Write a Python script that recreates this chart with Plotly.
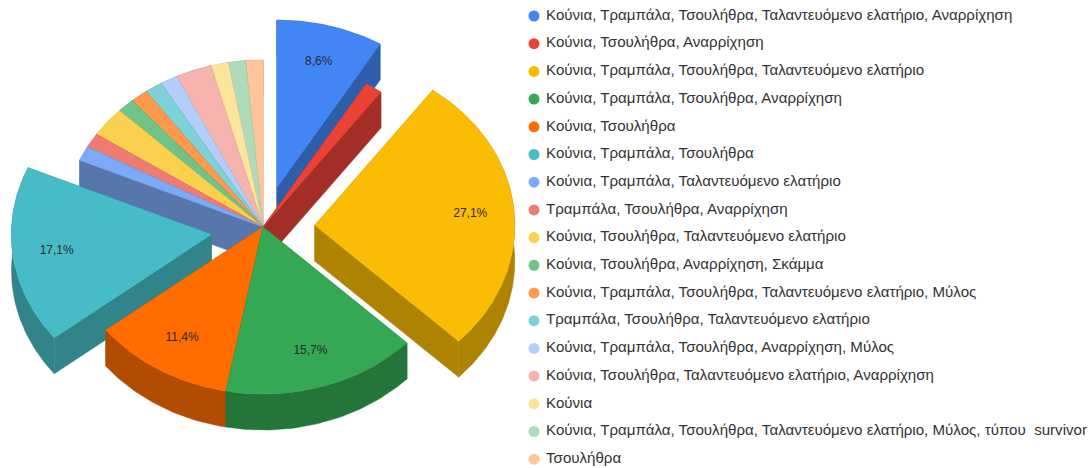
import math
import plotly.graph_objects as go

categories = [
    "Κούνια, Τραμπάλα, Τσουλήθρα, Ταλαντευόμενο ελατήριο, Αναρρίχηση",
    "Κούνια, Τσουλήθρα, Αναρρίχηση",
    "Κούνια, Τραμπάλα, Τσουλήθρα, Ταλαντευόμενο ελατήριο",
    "Κούνια, Τραμπάλα, Τσουλήθρα, Αναρρίχηση",
    "Κούνια, Τσουλήθρα",
    "Κούνια, Τραμπάλα, Τσουλήθρα",
    "Κούνια, Τραμπάλα, Ταλαντευόμενο ελατήριο",
    "Τραμπάλα, Τσουλήθρα, Αναρρίχηση",
    "Κούνια, Τσουλήθρα, Ταλαντευόμενο ελατήριο",
    "Κούνια, Τσουλήθρα, Αναρρίχηση, Σκάμμα",
    "Κούνια, Τραμπάλα, Τσουλήθρα, Ταλαντευόμενο ελατήριο, Μύλος",
    "Τραμπάλα, Τσουλήθρα, Ταλαντευόμενο ελατήριο",
    "Κούνια, Τραμπάλα, Τσουλήθρα, Αναρρίχηση, Μύλος",
    "Κούνια, Τσουλήθρα, Ταλαντευόμενο ελατήριο, Αναρρίχηση",
    "Κούνια",
    "Κούνια, Τραμπάλα, Τσουλήθρα, Ταλαντευόμενο ελατήριο, Μύλος, τύπου  survivor",
    "Τσουλήθρα",
]
values = [8.6, 1.4, 27.1, 15.7, 11.4, 17.1, 1.4, 1.4, 2.9, 1.4, 1.4, 1.4, 1.4, 2.9, 1.4, 1.4, 1.4]
pulled = [0.26, 0, 0.26, 0, 0, 0.26, 0, 0, 0, 0, 0, 0, 0, 0, 0, 0, 0]
colors = ["#4285f4", "#ea4335", "#fbbc04", "#34a853", "#ff6d01", "#46bdc6", "#7baaf7", "#f07b72",
          "#fcd04f", "#71c287", "#ff994d", "#7ed1d7", "#b3cefb", "#f7b4ae", "#fde49b", "#aedcba", "#ffc599"]

CX, CY, RX, RY, DEPTH = 263, 227, 200, 167, 36
PULL_DROP = 2
LEG_X, LEG_Y0, LEG_DY = 534, 16, 27.7


def darken(h, f=0.7):
    return "#%02x%02x%02x" % tuple(int(int(h[i:i + 2], 16) * f) for i in (1, 3, 5))


total = sum(values)
slices = []
acc = 0.0
for v, p, c in zip(values, pulled, colors):
    a0 = acc / total * 2 * math.pi
    acc += v
    a1 = acc / total * 2 * math.pi
    mid = (a0 + a1) / 2
    ax = CX + RX * p * math.sin(mid)
    ay = CY - RY * p * math.cos(mid) + (PULL_DROP if p else 0)
    n = max(4, int((a1 - a0) * 60))
    arc = [(ax + RX * math.sin(a0 + (a1 - a0) * i / n), ay - RY * math.cos(a0 + (a1 - a0) * i / n)) for i in range(n + 1)]
    slices.append(dict(v=v, c=c, mid=mid, ax=ax, ay=ay, arc=arc,
                       key=ay - RY * 0.5 * math.cos(mid)))

fig = go.Figure()


def poly(pts, color):
    fig.add_trace(go.Scatter(x=[q[0] for q in pts], y=[q[1] for q in pts], mode="lines", fill="toself",
                             fillcolor=color, line=dict(width=0.5, color=color), hoverinfo="skip", showlegend=False))


for s in sorted(slices, key=lambda d: d["key"]):
    apex = (s["ax"], s["ay"])
    arc = s["arc"]
    side = darken(s["c"])
    down = lambda q: (q[0], q[1] + DEPTH)
    poly([apex, arc[0], down(arc[0]), down(apex), apex], side)
    poly([apex, arc[-1], down(arc[-1]), down(apex), apex], side)
    poly(arc + [down(q) for q in reversed(arc)] + [arc[0]], side)
    poly([apex] + arc + [apex], s["c"])

for s in slices:
    if s["v"] > 5:
        fig.add_trace(go.Scatter(
            x=[s["ax"] + RX * 0.78 * math.sin(s["mid"])], y=[s["ay"] - RY * 0.78 * math.cos(s["mid"])],
            mode="text", text=[f'{s["v"]:.1f}%'.replace(".", ",")], textposition="middle center",
            textfont=dict(family="Liberation Sans", size=12, color="#2a2a2a"),
            hoverinfo="skip", showlegend=False))

for i, (name, c) in enumerate(zip(categories, colors)):
    y = LEG_Y0 + LEG_DY * i
    fig.add_trace(go.Scatter(x=[LEG_X], y=[y], mode="markers", marker=dict(size=11, color=c),
                             hoverinfo="skip", showlegend=False))
    fig.add_trace(go.Scatter(x=[LEG_X + 12], y=[y], mode="text", text=[name], textposition="middle right",
                             textfont=dict(family="Liberation Sans", size=15.1, color="#333333"),
                             hoverinfo="skip", showlegend=False))

fig.update_layout(width=1091, height=468, margin=dict(l=0, r=0, t=0, b=0), showlegend=False,
                  paper_bgcolor="white", plot_bgcolor="white",
                  xaxis=dict(range=[0, 1091], visible=False, fixedrange=True),
                  yaxis=dict(range=[468, 0], visible=False, fixedrange=True))
fig.write_html("out.html", config={"displayModeBar": False},
               post_script="document.body.style.margin='0';document.body.style.overflow='hidden';")
